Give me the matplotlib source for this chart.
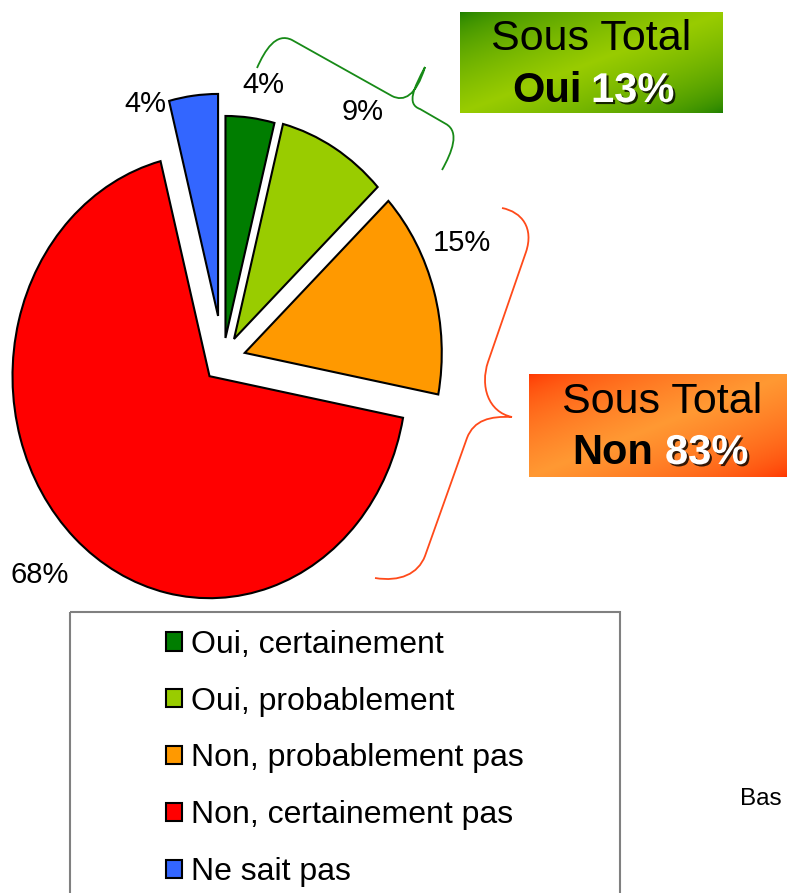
import matplotlib

matplotlib.use("Agg")

import matplotlib.pyplot as plt
import numpy as np
from matplotlib import font_manager, patheffects
from matplotlib.patches import PathPatch, Rectangle
from matplotlib.path import Path

# data
categories = [
    "Oui, certainement",
    "Oui, probablement",
    "Non, probablement pas",
    "Non, certainement pas",
    "Ne sait pas",
]
values = [4, 9, 15, 68, 4]
colors = ["#007d00", "#99cc00", "#ff9900", "#ff0000", "#3366ff"]
subtotal_oui = 13
subtotal_non = 83

W, H = 787, 893
# pie centre and radii in pixels (the original pie is slightly taller than wide)
CX, CY, RX, RY = 223, 360, 197, 222

available = {f.name for f in font_manager.fontManager.ttflist}
narrow = "Liberation Sans Narrow" if "Liberation Sans Narrow" in available else "Liberation Sans"
plt.rcParams["font.family"] = ["Liberation Sans", "DejaVu Sans"]


def px(x, y):
    """pixel position -> pie axes data position"""
    return (x - CX) / RX, (CY - y) / RY


fig = plt.figure(figsize=(W / 100, H / 100), dpi=100)
ax = fig.add_axes([0, 0, 1, 1])
wedges, _, autotexts = ax.pie(
    values,
    colors=colors,
    startangle=90,
    counterclock=False,
    explode=[0.1, 0.11, 0.115, 0.1, 0.2],
    autopct="%.0f%%",
    pctdistance=1.18,
    wedgeprops=dict(edgecolor="black", linewidth=1.5),
    textprops=dict(fontsize=21, color="black"),
)
ax.set_aspect("auto")
ax.set_xlim(-CX / RX, (W - CX) / RX)
ax.set_ylim((CY - H) / RY, CY / RY)
ax.axis("off")

# percentage labels sit where the original put them
label_px = [(263, 85), (363, 112), (462, 243), (40, 575), (145, 104)]
for t, (lx, ly) in zip(autotexts, label_px):
    t.set_position(px(lx, ly))
    t.set_ha("center")
    t.set_va("center")

# overlay in pixel coordinates for the annotations
ov = fig.add_axes([0, 0, 1, 1], zorder=3)
ov.set_xlim(0, W)
ov.set_ylim(H, 0)
ov.axis("off")


def gradient_box(x0, y0, x1, y1, dark, light):
    h, w = int(y1 - y0), int(x1 - x0)
    u = np.linspace(0, 1, w)[None, :]
    v = np.linspace(0, 1, h)[:, None]
    s = (u + v) / 2
    f = np.clip(1 - np.abs(2 * s - 1), 0, 1) ** 0.6
    d = np.array(matplotlib.colors.to_rgb(dark))
    lt = np.array(matplotlib.colors.to_rgb(light))
    img = d[None, None, :] * (1 - f[..., None]) + lt[None, None, :] * f[..., None]
    ov.imshow(img, extent=(x0, x1, y1, y0), origin="upper", aspect="auto", zorder=1)


shadow = [
    patheffects.withSimplePatchShadow(offset=(1.5, -1.5), shadow_rgbFace="black", alpha=0.8),
]

# green sub-total box
gradient_box(460, 12, 723, 113, "#1b7d00", "#99cc00")
ov.text(591, 39, "Sous Total", fontsize=31, ha="center", va="center", zorder=2)
ov.text(582, 91, "Oui", fontsize=30, fontweight="bold", ha="right", va="center", zorder=2)
ov.text(591, 91, f"{subtotal_oui}%", fontsize=30, fontweight="bold", color="white",
        ha="left", va="center", zorder=2, path_effects=shadow)

# orange sub-total box
gradient_box(529, 374, W, 477, "#ff3300", "#ff9933")
ov.text(662, 402, "Sous Total", fontsize=31, ha="center", va="center", zorder=2)
ov.text(653, 453, "Non", fontsize=30, fontweight="bold", ha="right", va="center", zorder=2)
ov.text(665, 453, f"{subtotal_non}%", fontsize=30, fontweight="bold", color="white",
        ha="left", va="center", zorder=2, path_effects=shadow)

# braces
M, C, L = Path.MOVETO, Path.CURVE4, Path.LINETO
green_brace = Path(
    [(257, 68), (265, 50), (276, 32), (292, 40), (392, 96),
     (404, 102), (416, 96), (425, 67), (414, 88), (406, 104), (420, 109),
     (446, 124), (460, 132), (452, 152), (442, 170)],
    [M, C, C, C, L, C, C, C, C, C, C, L, C, C, C],
)
orange_brace = Path(
    [(502, 208), (522, 212), (534, 228), (526, 252), (488, 362),
     (480, 386), (488, 412), (512, 417), (490, 416), (474, 420), (467, 438),
     (425, 556), (418, 574), (400, 582), (375, 578)],
    [M, C, C, C, L, C, C, C, C, C, C, L, C, C, C],
)
ov.add_patch(PathPatch(green_brace, fill=False, edgecolor="#178a17", linewidth=1.3))
ov.add_patch(PathPatch(orange_brace, fill=False, edgecolor="#ff4a1a", linewidth=1.3))

# legend
ov.add_patch(Rectangle((70, 612), 550, 320, fill=False, edgecolor="#808080", linewidth=1.5))
ov.legend(
    wedges,
    categories,
    loc="upper center",
    bbox_to_anchor=(345, 601),
    bbox_transform=ov.transData,
    frameon=False,
    prop=dict(family=narrow, size=28.5 if narrow != "Liberation Sans" else 23),
    handlelength=0.5,
    handleheight=0.5,
    handletextpad=0.3,
    labelspacing=0.84,
)

# only the start of the base note is visible in the original
ov.text(740, 799, "Bas", fontsize=17.5, ha="left", va="center")

fig.savefig("out.png", dpi=100)
